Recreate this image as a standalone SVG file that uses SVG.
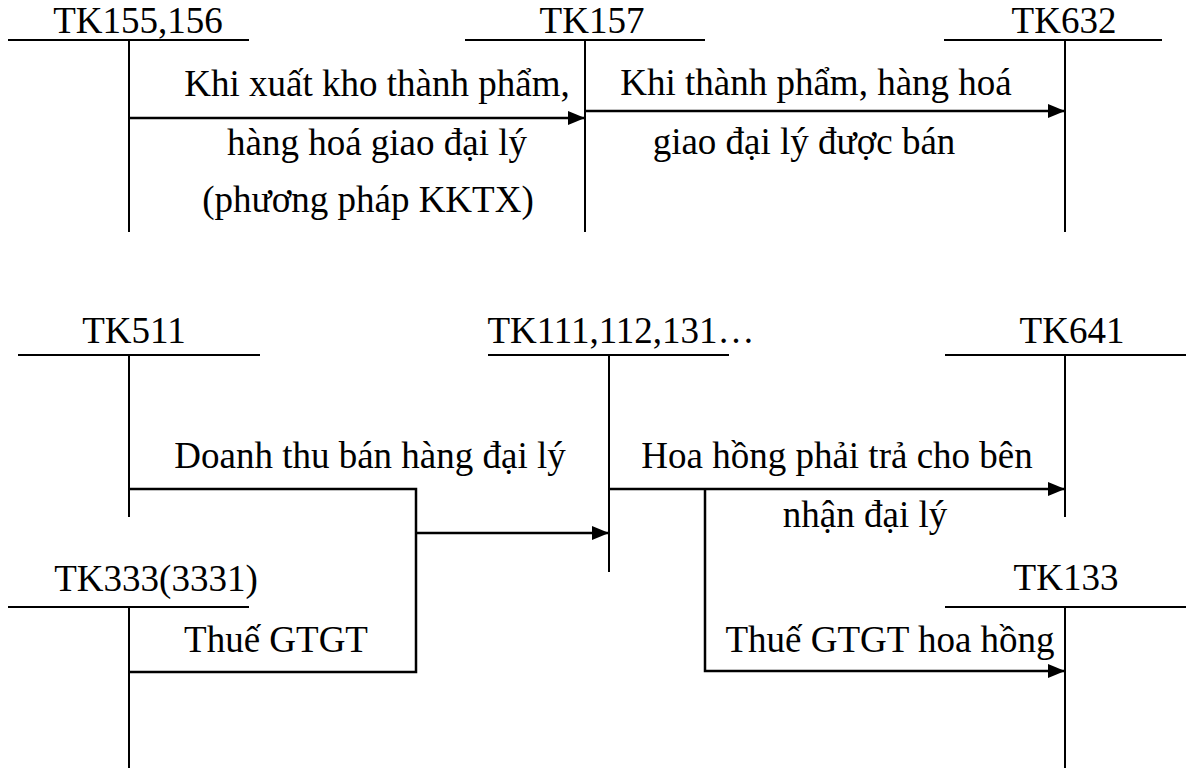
<svg xmlns="http://www.w3.org/2000/svg" width="1187" height="769" viewBox="0 0 1187 769">
  <style>
    text { font-family: "Liberation Serif", "Times New Roman", serif; font-size: 37px; fill: #000; text-anchor: middle; }
    .acct { stroke: #000; stroke-width: 2; fill: none; }
    .flow { stroke: #000; stroke-width: 2.5; fill: none; }
    .arrow { marker-end: url(#head); }
  </style>
  <defs>
    <marker id="head" markerUnits="userSpaceOnUse" markerWidth="18" markerHeight="15" refX="17" refY="7" orient="auto">
      <path d="M0,0 L17,7 L0,14 Z" fill="#000"/>
    </marker>
  </defs>
  <rect width="1187" height="769" fill="#fff"/>

  <!-- T-accounts -->
  <g id="tk155">
    <text x="138" y="33">TK155,156</text>
    <path class="acct" d="M8,40 H249 M129,40 V232"/>
  </g>
  <g id="tk157">
    <text x="592" y="33">TK157</text>
    <path class="acct" d="M465,40 H705 M585,40 V232"/>
  </g>
  <g id="tk632">
    <text x="1064" y="33">TK632</text>
    <path class="acct" d="M944,40 H1162 M1065,40 V232"/>
  </g>
  <g id="tk511">
    <text x="134" y="343">TK511</text>
    <path class="acct" d="M18,355 H260 M129,355 V517"/>
  </g>
  <g id="tk111">
    <text x="621" y="343">TK111,112,131…</text>
    <path class="acct" d="M488,355 H729 M609,355 V572"/>
  </g>
  <g id="tk641">
    <text x="1072" y="343">TK641</text>
    <path class="acct" d="M945,355 H1186 M1065,355 V517"/>
  </g>
  <g id="tk333">
    <text x="156" y="591">TK333(3331)</text>
    <path class="acct" d="M8,607 H249 M129,607 V768"/>
  </g>
  <g id="tk133">
    <text x="1066" y="590">TK133</text>
    <path class="acct" d="M945,607 H1186 M1065,607 V768"/>
  </g>

  <!-- Connectors -->
  <g id="connectors">
    <path class="flow arrow" d="M129,118 H585"/>
    <path class="flow arrow" d="M585,111 H1065"/>
    <path class="flow" d="M129,489 H416 V672 H129"/>
    <path class="flow arrow" d="M416,533 H609"/>
    <path class="flow arrow" d="M609,489 H1065"/>
    <path class="flow arrow" d="M705,489 V671 H1065"/>
  </g>

  <!-- Connector labels -->
  <g id="labels">
    <text x="377" y="96">Khi xuất kho thành phẩm,</text>
    <text x="377" y="155">hàng hoá giao đại lý</text>
    <text x="368" y="212">(phương pháp KKTX)</text>
    <text x="816" y="95">Khi thành phẩm, hàng hoá</text>
    <text x="804" y="154">giao đại lý được bán</text>
    <text x="370" y="468">Doanh thu bán hàng đại lý</text>
    <text x="276" y="652">Thuế GTGT</text>
    <text x="837" y="468">Hoa hồng phải trả cho bên</text>
    <text x="865" y="527">nhận đại lý</text>
    <text x="890" y="652">Thuế GTGT hoa hồng</text>
  </g>
</svg>
